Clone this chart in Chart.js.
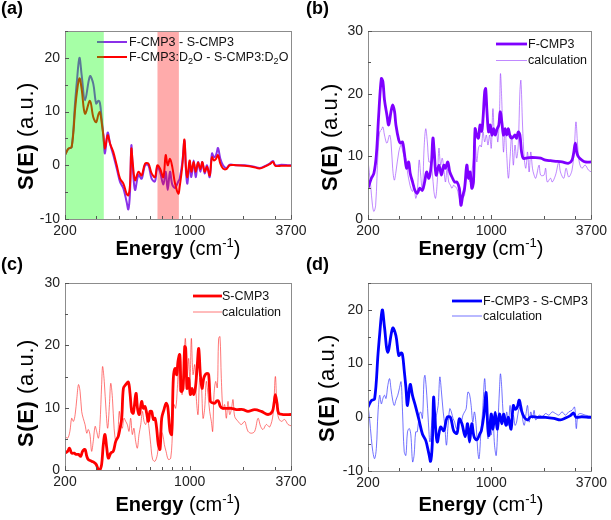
<!DOCTYPE html>
<html>
<head>
<meta charset="utf-8">
<script src="https://cdn.jsdelivr.net/npm/chart.js@4.4.0/dist/chart.umd.min.js"></script>
<style>
  body { margin: 0; background: #fff; width: 611px; height: 520px; position: relative; overflow: hidden;
         font-family: "Liberation Sans", Arial, sans-serif; color: #000; }
  canvas { position: absolute; left: 0; top: 0; }
  .t { position: absolute; white-space: nowrap; z-index: 5; }
  .pl { font-weight: bold; font-size: 18px; line-height: 20px; }
  .yt { font-size: 22px; line-height: 24px; letter-spacing: 0.6px; transform: translate(-50%, -50%) rotate(-90deg); }
  .xt { font-size: 20px; line-height: 22px; transform: translate(-50%, -50%); }
  .xt sup { font-size: 13px; vertical-align: 8px; line-height: 0; }
  .lg { font-size: 12.5px; line-height: 16px; color: #111; transform: translateY(-50%); }
  .lg sub { font-size: 9px; vertical-align: -3px; line-height: 0; }
  b { font-weight: bold; }
</style>
</head>
<body>
<canvas id="ca" width="611" height="520"></canvas>
<canvas id="cb" width="611" height="520"></canvas>
<canvas id="cc" width="611" height="520"></canvas>
<canvas id="cd" width="611" height="520"></canvas>

<div class="t pl" style="left:1px;top:-2px">(a)</div>
<div class="t pl" style="left:306px;top:-2px">(b)</div>
<div class="t pl" style="left:1px;top:254px">(c)</div>
<div class="t pl" style="left:306px;top:254px">(d)</div>

<div class="t yt" style="left:26px;top:136px"><b>S(E)</b> (a.u.)</div>
<div class="t yt" style="left:330px;top:137px"><b>S(E)</b> (a.u.)</div>
<div class="t yt" style="left:26px;top:393px"><b>S(E)</b> (a.u.)</div>
<div class="t yt" style="left:327px;top:388px"><b>S(E)</b> (a.u.)</div>

<div class="t xt" style="left:178px;top:248px"><b>Energy</b> (cm<sup>-1</sup>)</div>
<div class="t xt" style="left:481px;top:248px"><b>Energy</b> (cm<sup>-1</sup>)</div>
<div class="t xt" style="left:178px;top:504px"><b>Energy</b> (cm<sup>-1</sup>)</div>
<div class="t xt" style="left:481px;top:504px"><b>Energy</b> (cm<sup>-1</sup>)</div>

<div class="t lg" style="left:129px;top:42px">F-CMP3 - S-CMP3</div>
<div class="t lg" style="left:129px;top:57px">F-CMP3:D<sub>2</sub>O - S-CMP3:D<sub>2</sub>O</div>
<div class="t lg" style="left:528px;top:44px">F-CMP3</div>
<div class="t lg" style="left:528px;top:60px">calculation</div>
<div class="t lg" style="left:222px;top:296px">S-CMP3</div>
<div class="t lg" style="left:222px;top:312px">calculation</div>
<div class="t lg" style="left:483px;top:301px">F-CMP3 - S-CMP3</div>
<div class="t lg" style="left:483px;top:316px">calculation</div>

<script>
// x axis (log), energy in cm-1
const xTicks = [200, 300, 400, 500, 600, 700, 800, 900, 1000, 2000, 3000, 3700];
const xLabels = [200, 1000, 3700];
const greenBand = [200, 330];
const redBand = [660, 870];

// (a)/(d) experimental difference spectra
const diffE = [200, 209, 218, 228, 233, 241, 248, 259, 276, 288,
  299, 308, 314, 321, 328, 335, 347, 358, 373, 390,
  407, 425, 443, 453, 463, 471, 479, 494, 516, 538,
  562, 587, 612, 639, 659, 682, 712, 734, 753, 776,
  799, 828, 864, 879, 910, 935, 954, 971, 1000, 1022,
  1053, 1081, 1114, 1148, 1178, 1214, 1251, 1295, 1334, 1369,
  1405, 1442, 1486, 1538, 1606, 1676, 1827, 2034, 2266, 2469,
  2657, 2809, 2933, 3023, 3266, 3606, 3700];
const diffV = [1.9, 3.1, 3.4, 11.8, 15.5, 20, 16.8, 12.1, 16.6, 15.2,
  11.5, 12, 11.6, 8.7, 5.6, 2.2, 6.1, 4, 1.9, -0.6,
  -3.1, -4.3, -6.8, -8.2, -5, 3.7, 0, -4.6, -1.8, -2.5,
  0, 0, -2.5, -3, -0.3, -1.2, -3.6, -1.2, -4.6, -1.2,
  -3.6, -4.2, -3, -2.5, 0.6, 4.6, -1.2, -3.4, 0.6, -2.2,
  0.9, -2.2, 0.6, -1.2, 0.6, -1.5, 0, -2.2, 2.2, 1.5,
  1.9, 3.2, 1.2, 0, -0.5, 0.1, 0, 0, -0.2, -0.5,
  -0.1, 0.3, 0.8, 0, 0.1, 0, 0];
const d2oV = [1.9, 3.1, 3.4, 10.5, 13.5, 16.2, 14.2, 9.6, 12, 9,
  8, 9.5, 9.9, 8, 5.6, 3.1, 5.6, 4, 2.5, 0,
  -2.5, -3.4, -5.3, -5.6, -3.7, 3.1, 0.6, -2.8, -1.2, -1.9,
  0.3, 0.3, -1.5, -2.2, 0, -0.6, -2.2, 1.9, 0, 1.2,
  -0.3, -3.4, -5.3, -4, 0, 4.8, -0.6, -2.2, 0.9, -1.2,
  0.6, -1.2, 0.5, -0.7, 0.6, -1.2, -0.3, -1.9, 1.5, 0.9,
  1.2, 1.9, 0.3, -0.6, -0.7, 0, 0, -0.1, -0.3, -0.6,
  -0.2, 0.2, 0.6, -0.1, -0.1, -0.1, -0.1];

// (b) F-CMP3
const fE = [200, 209, 216, 223, 230, 238, 243, 248, 256, 262,
  270, 276, 283, 288, 299, 306, 314, 321, 331, 340,
  347, 358, 369, 381, 393, 407, 419, 430, 443, 457,
  467, 475, 487, 505, 522, 538, 550, 567, 582, 599,
  620, 639, 659, 673, 688, 706, 727, 743, 759, 776,
  793, 810, 828, 846, 864, 883, 898, 918, 930, 946,
  966, 987, 1009, 1031, 1053, 1081, 1104, 1124, 1148, 1173,
  1199, 1224, 1251, 1278, 1306, 1334, 1364, 1393, 1423, 1454,
  1486, 1518, 1571, 1640, 1788, 1907, 2034, 2170, 2365, 2523,
  2750, 2871, 2933, 2997, 3062, 3129, 3266, 3410, 3700];
const fV = [4.9, 6.5, 7.3, 10.2, 16.6, 22.4, 21.9, 19, 16.6, 15,
  17.1, 18.2, 17.1, 15, 12.6, 12.1, 12.3, 10.7, 8.1, 9.1,
  7.3, 5.9, 4.6, 4.1, 4.9, 4.6, 5.9, 7.5, 6.5, 8.6,
  12.9, 10.7, 7, 8.6, 7, 8.6, 8.1, 9.1, 7.5, 6.7,
  5.9, 5.9, 4.9, 2.2, 3.6, 4.9, 8.6, 6.5, 7.5, 4.9,
  5.9, 14.4, 13.4, 12.9, 15, 14, 16, 20.3, 20.8, 17.1,
  13.9, 15, 13.4, 14.4, 13.4, 14.4, 15, 17.1, 15.5, 13.4,
  14.4, 13.4, 14.4, 13.2, 12.9, 13.1, 13.4, 12.9, 13.9, 13.4,
  10.7, 9.7, 9.7, 9.8, 9.8, 9.7, 9.4, 9.3, 9.2, 9.1,
  8.9, 9.4, 10.5, 12.1, 10.5, 9.9, 9.4, 9.1, 9.1];
const fCalcE = [200, 207, 212, 216, 221, 228, 233, 238, 243, 248,
  256, 265, 270, 276, 282, 288, 299, 308, 314, 321,
  328, 335, 343, 350, 358, 365, 373, 381, 390, 398,
  407, 416, 425, 434, 443, 453, 463, 473, 483, 494,
  505, 516, 527, 538, 550, 562, 574, 587, 599, 612,
  626, 639, 653, 673, 688, 706, 718, 737, 759, 776,
  793, 810, 828, 846, 864, 879, 898, 918, 938, 958,
  979, 1000, 1022, 1044, 1067, 1090, 1114, 1128, 1148, 1173,
  1199, 1224, 1251, 1278, 1306, 1334, 1364, 1393, 1423, 1454,
  1473, 1505, 1538, 1571, 1606, 1640, 1676, 1713, 1750, 1788,
  1867, 1907, 1991, 2034, 2079, 2170, 2217, 2315, 2417, 2469,
  2578, 2657, 2750, 2871, 2958, 3023, 3089, 3156, 3266, 3410,
  3560, 3700];
const fCalcV = [9.4, 5.4, 2.2, 1.2, 2.2, 10.7, 13.9, 14.2, 14.7, 13.4,
  12.1, 13.4, 12.3, 8.1, 6.2, 7.5, 10.7, 11.8, 11, 9.9,
  9.7, 7.5, 5.9, 4.9, 4.4, 5.4, 3.3, 4.4, 9.4, 7,
  4.4, 11.3, 14.4, 12.3, 9.1, 9.1, 7.5, 4.4, 3.3, 5.9,
  11.3, 8.6, 9.7, 8.1, 5.9, 8.1, 5.9, 5.4, 4.9, 5.4,
  5.1, 4.9, 3.8, 2.5, 3.3, 3.8, 5.9, 7, 5.9, 7.5,
  9.7, 12.3, 9.1, 11.3, 11.8, 11.5, 13.9, 12.3, 13.4, 11.8,
  13.4, 11.3, 17.6, 13.4, 14.4, 12.3, 17.1, 23.2, 18.7, 10.7,
  14.4, 10.2, 6.5, 9.7, 13.4, 8.6, 11.8, 9.7, 11.8, 20.3,
  22.1, 15, 9.7, 8.1, 10.7, 7.5, 10.7, 8.1, 7, 6.5,
  8.6, 7, 7, 8.1, 5.9, 6.5, 5.9, 7, 9.1, 7.5,
  6.5, 8.1, 6.7, 7.8, 11.3, 15.5, 11.8, 9.1, 8.1, 8.6,
  7.8, 7.5];

// (c) S-CMP3
const sE = [200, 207, 212, 218, 225, 231, 238, 245, 251, 259,
  265, 270, 282, 288, 299, 308, 314, 321, 328, 335,
  343, 350, 361, 373, 385, 398, 407, 416, 425, 438,
  453, 463, 473, 483, 500, 511, 522, 538, 550, 562,
  574, 587, 599, 612, 626, 639, 653, 667, 682, 697,
  718, 737, 753, 776, 793, 810, 828, 846, 860, 879,
  898, 918, 938, 950, 966, 987, 1009, 1031, 1053, 1076,
  1100, 1124, 1148, 1173, 1199, 1224, 1251, 1278, 1306, 1334,
  1381, 1423, 1454, 1486, 1538, 1713, 1827, 1991, 2124, 2315,
  2523, 2750, 2908, 2971, 3023, 3089, 3156, 3337, 3700];
const sV = [2.7, 3, 3.5, 2.7, 2.7, 2.5, 2.5, 2.2, 3, 3.3,
  2.2, 1.7, 1.4, 1.3, 0.9, 0.05, 0, 0.9, 4.1, 5.7,
  3.5, 1.9, 2.7, 3, 4.6, 5.4, 6.7, 8.3, 13.1, 13.7,
  14.1, 12.3, 9.4, 9.1, 12.3, 9.7, 8.9, 11, 9.9, 10.2,
  9.1, 7.8, 9.4, 9.4, 8.1, 8.3, 6.7, 4.1, 3.3, 8.3,
  9.7, 10.7, 10.2, 6.2, 5.7, 14.7, 16.3, 15.3, 17.4, 18.5,
  12.6, 13.1, 19.8, 19.5, 13.1, 14.7, 12.1, 13.1, 12.1, 13.1,
  16.3, 19.5, 15.3, 13.1, 14.7, 15.3, 15.5, 15.3, 11, 10.8,
  10.7, 11.1, 11, 10.2, 9.9, 9.9, 9.7, 9.7, 9.4, 9.7,
  9.4, 8.9, 9.4, 10.7, 12.1, 10.7, 9.1, 8.9, 8.9];
const sCalcE = [200, 207, 213, 218, 223, 228, 233, 238, 243, 248,
  253, 259, 265, 270, 276, 282, 288, 295, 301, 308,
  314, 321, 325, 332, 340, 347, 355, 361, 369, 377,
  386, 395, 403, 410, 419, 428, 438, 447, 457, 467,
  477, 487, 498, 509, 520, 532, 543, 555, 567, 579,
  592, 605, 620, 639, 659, 676, 688, 706, 721, 737,
  759, 783, 803, 817, 835, 853, 865, 879, 890, 906,
  926, 946, 966, 987, 1004, 1022, 1044, 1067, 1090, 1114,
  1138, 1163, 1188, 1214, 1240, 1267, 1295, 1323, 1346, 1369,
  1399, 1429, 1454, 1479, 1505, 1538, 1571, 1606, 1640, 1676,
  1713, 1750, 1788, 1867, 1949, 2034, 2079, 2124, 2217, 2315,
  2417, 2500, 2578, 2691, 2809, 2933, 3023, 3089, 3156, 3266,
  3410, 3560, 3700];
const sCalcV = [5.4, 5.1, 6.2, 8.3, 7.8, 8.9, 11.5, 13.7, 12.6, 9.4,
  8.3, 7.3, 5.9, 6.5, 5.7, 3, 4.6, 7, 6.2, 5.1,
  7.3, 13.7, 16.6, 14.2, 9.4, 6.7, 10.5, 13.9, 11.5, 6.7,
  4.6, 5.7, 9.4, 7.8, 6.7, 8.3, 7.8, 7.3, 6.2, 8.3,
  5.7, 6.7, 4.6, 3.5, 5.7, 7.3, 9.4, 7.8, 7.3, 8.3,
  6.7, 4.1, 1.7, 1.4, 2.5, 5.1, 6.2, 5.7, 4.1, 3,
  1.7, 1.9, 6.7, 10.5, 9.9, 13.1, 16.5, 12.6, 18.5, 12.1,
  16.3, 21.1, 14.7, 17.9, 13.7, 21.1, 15.3, 16.9, 11.5, 8.9,
  14.7, 13.7, 8.3, 9.9, 14.2, 12.1, 9.4, 7.8, 6.2, 12.1,
  14.2, 13.2, 21.1, 21.4, 14.7, 9.7, 10.5, 8.3, 11, 8.9,
  9.7, 11.3, 8.6, 7.8, 7.3, 7.8, 7, 6.2, 5.9, 6.2,
  8.3, 7, 6.5, 7.3, 6.9, 8.9, 15, 9.9, 8.3, 7.8,
  8.1, 7.3, 7.1];

// (d) calculated difference
const dCalcE = [200, 204, 209, 213, 218, 223, 228, 233, 238, 243,
  248, 253, 259, 265, 270, 276, 282, 288, 295, 301,
  308, 314, 321, 328, 335, 343, 350, 358, 365, 373,
  381, 390, 398, 407, 416, 421, 431, 440, 449, 459,
  469, 479, 489, 500, 511, 522, 534, 545, 557, 569,
  582, 594, 607, 620, 634, 648, 662, 676, 691, 706,
  721, 737, 753, 769, 786, 803, 821, 839, 853, 872,
  893, 918, 938, 958, 979, 1000, 1022, 1044, 1067, 1090,
  1114, 1128, 1148, 1173, 1199, 1224, 1251, 1278, 1306, 1334,
  1364, 1393, 1423, 1454, 1486, 1505, 1538, 1571, 1606, 1640,
  1676, 1713, 1750, 1788, 1867, 1949, 2034, 2124, 2217, 2315,
  2417, 2523, 2634, 2750, 2871, 2971, 3036, 3102, 3197, 3410,
  3700];
const dCalcV = [2.2, -0.2, -4, -6.4, -7.7, -5.8, 1, 4.1, 2.5, 3.5,
  4.1, 3.5, 5.9, 7.2, 5.3, 3.2, 2.2, 3.2, 4.1, 5.3,
  6.6, 1, -6.4, -7.1, -2.7, -2.1, -3.3, -8.3, -7.1, -2.7,
  -2.7, 0.4, 1, -0.2, 7.2, 7.8, 4.1, -0.9, -4.6, -1.5,
  1, -2.1, 0.4, 2.2, 7.5, 4.7, 1, -1.5, -5.2, -1.5,
  1.6, 1, -0.2, -0.9, -2.1, -1.5, -0.2, -0.9, 0.4, 1,
  1.6, 4.7, 4.3, 2.2, -0.9, 1, -1.5, -6.4, -7.7, -3.3,
  1, 7.2, 0.4, -4, -1.5, -3.3, -0.2, -5.2, -7.1, -1.5,
  5.3, 8.1, 5.3, -0.2, -1.5, 1, -1.5, 2.2, -0.2, 0.4,
  -1.5, -0.9, 1, 1.9, 2.2, -0.2, -1.5, 0.4, 2.2, -0.9,
  1, -0.2, 1.3, -0.5, 0.4, 0.1, 0.7, 0.4, 1, 0.7,
  0.4, 1, 0.4, 1, 1.3, 1.9, -2.1, 0.4, 0.7, 0.4,
  0.2];

const PURPLE_A = '#8a30e8';
const PURPLE = '#7f00ff';
const PURPLE_LT = 'rgba(140, 40, 255, 0.55)';
const RED = '#ff0000';
const RED_LT = 'rgba(255, 30, 30, 0.6)';
const BLUE = '#0000ff';
const BLUE_LT = 'rgba(40, 40, 255, 0.65)';

function pairs(xs, ys) {
  return xs.map((x, i) => ({ x: x, y: ys[i] }));
}

function line(xs, ys, color, width) {
  return { data: pairs(xs, ys), borderColor: color, borderWidth: width,
           pointRadius: 0, tension: 0.35, fill: false };
}

// legend swatches, shaded bands, frame and inward ticks
const deco = {
  id: 'deco',
  afterDatasetsDraw(chart, args, opts) {
    const ctx = chart.ctx, a = chart.chartArea, xs = chart.scales.x;
    ctx.save();
    (opts.legend || []).forEach(it => {
      ctx.strokeStyle = it.color;
      ctx.lineWidth = it.width;
      ctx.beginPath();
      ctx.moveTo(a.left + it.x0, a.top + it.y);
      ctx.lineTo(a.left + it.x1, a.top + it.y);
      ctx.stroke();
    });
    (opts.bands || []).forEach(b => {
      const x0 = xs.getPixelForValue(b.range[0]);
      const x1 = xs.getPixelForValue(b.range[1]);
      ctx.fillStyle = b.color;
      ctx.fillRect(x0, a.top, x1 - x0, a.bottom - a.top);
    });
    ctx.restore();
  },
  afterDraw(chart) {
    const ctx = chart.ctx, a = chart.chartArea;
    const xs = chart.scales.x, ys = chart.scales.y;
    ctx.save();
    ctx.strokeStyle = '#8c8c8c';
    ctx.lineWidth = 1;
    ctx.strokeRect(Math.round(a.left) + 0.5, Math.round(a.top) + 0.5,
                   Math.round(a.right - a.left), Math.round(a.bottom - a.top));
    ctx.strokeStyle = '#555';
    ctx.beginPath();
    xs.ticks.forEach(t => {
      const px = Math.round(xs.getPixelForValue(t.value)) + 0.5;
      const len = xLabels.includes(t.value) ? 4 : 3;
      ctx.moveTo(px, a.bottom);
      ctx.lineTo(px, a.bottom - len);
    });
    ys.ticks.forEach(t => {
      const py = Math.round(ys.getPixelForValue(t.value)) + 0.5;
      const len = t.value % 10 === 0 ? 4 : 3;
      ctx.moveTo(a.left, py);
      ctx.lineTo(a.left + len, py);
    });
    ctx.stroke();
    ctx.restore();
  }
};

const tickFont = { family: 'Liberation Sans', size: 14 };

function makePanel(id, box, yMin, yMax, datasets, legend, bands) {
  return new Chart(document.getElementById(id), {
    type: 'line',
    data: { datasets: datasets },
    plugins: [deco],
    options: {
      responsive: false,
      animation: false,
      events: [],
      devicePixelRatio: 1,
      layout: { padding: { left: box.l - 60, right: 611 - box.r, top: box.t, bottom: 520 - box.b - 30 } },
      plugins: {
        legend: { display: false },
        tooltip: { enabled: false },
        deco: { legend: legend, bands: bands }
      },
      scales: {
        x: {
          type: 'logarithmic', min: 200, max: 3700,
          afterBuildTicks: s => { s.ticks = xTicks.map(v => ({ value: v })); },
          afterFit: s => { s.height = 30; },
          grid: { display: false, drawTicks: false },
          border: { display: false },
          ticks: {
            autoSkip: false, maxRotation: 0, padding: 4, color: '#222', font: tickFont,
            callback: v => (xLabels.includes(v) ? String(v) : '')
          }
        },
        y: {
          type: 'linear', min: yMin, max: yMax,
          afterFit: s => { s.width = 60; },
          grid: { display: false, drawTicks: false },
          border: { display: false },
          ticks: {
            stepSize: 5, padding: 5, color: '#222', font: tickFont,
            callback: v => (v % 10 === 0 ? String(v) : '')
          }
        }
      }
    }
  });
}

makePanel('ca', { l: 65, r: 291, t: 31, b: 219 }, -10, 25,
  [line(diffE, d2oV, RED, 2), line(diffE, diffV, PURPLE_A, 2)],
  [{ color: PURPLE_A, width: 2, x0: 32, x1: 62, y: 11 },
   { color: RED, width: 2, x0: 32, x1: 62, y: 26 }],
  [{ range: greenBand, color: 'rgba(0, 255, 0, 0.35)' },
   { range: redBand, color: 'rgba(255, 0, 0, 0.33)' }]);

makePanel('cb', { l: 368, r: 594, t: 31, b: 219 }, 0, 30,
  [line(fE, fV, PURPLE, 2.8), line(fCalcE, fCalcV, PURPLE_LT, 1)],
  [{ color: PURPLE, width: 2.8, x0: 128, x1: 159, y: 13 },
   { color: PURPLE_LT, width: 1, x0: 128, x1: 159, y: 29.5 }],
  []);

makePanel('cc', { l: 65, r: 291, t: 283, b: 470 }, 0, 30,
  [line(sE, sV, RED, 2.8), line(sCalcE, sCalcV, RED_LT, 1)],
  [{ color: RED, width: 2.8, x0: 128, x1: 157, y: 13 },
   { color: RED_LT, width: 1, x0: 128, x1: 157, y: 29 }],
  []);

makePanel('cd', { l: 368, r: 594, t: 283, b: 471 }, -10, 25,
  [line(diffE, diffV, BLUE, 2.8), line(dCalcE, dCalcV, BLUE_LT, 1)],
  [{ color: BLUE, width: 2.8, x0: 84, x1: 114, y: 18 },
   { color: BLUE_LT, width: 1, x0: 84, x1: 114, y: 33 }],
  []);
</script>
</body>
</html>
